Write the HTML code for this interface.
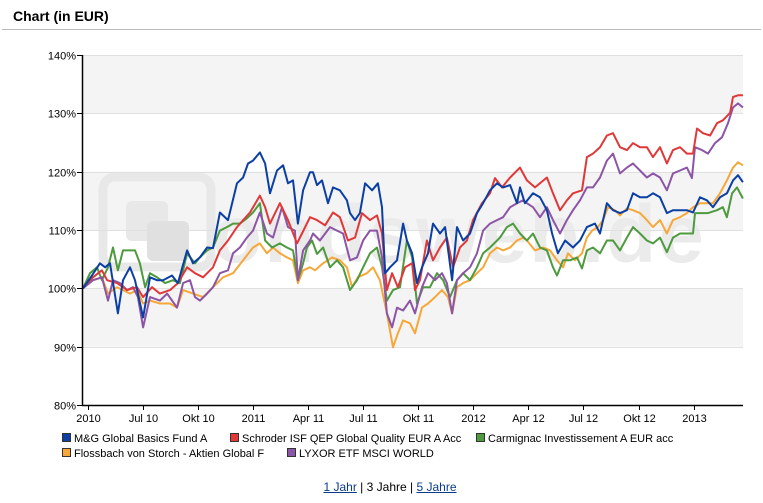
<!DOCTYPE html>
<html><head><meta charset="utf-8">
<style>
body{margin:0;background:#fff;font-family:"Liberation Sans",Arial,sans-serif;}
#wrap{position:relative;width:763px;height:503px;overflow:hidden;}
a{color:#0a3a8a;}
</style></head>
<body>
<div id="wrap">
<svg id="svg" width="763" height="503" xmlns="http://www.w3.org/2000/svg">
  <text x="13" y="21" font-size="14" font-weight="bold" fill="#000">Chart (in EUR)</text>
  <line x1="2" y1="29.5" x2="761" y2="29.5" stroke="#bbb" stroke-width="1"/>
  <g id="bands"></g>
  <g opacity="1">
    <rect x="103" y="177" width="108" height="90" rx="12" fill="none" stroke="#e8e8e8" stroke-width="9"/>
    <rect x="126" y="201" width="42" height="40" rx="6" fill="#e8e8e8"/>
    <rect x="147" y="221" width="42" height="40" rx="6" fill="#e0e0e0"/>
    <text x="212" y="262" font-size="82" font-weight="bold" fill="#ebebeb" letter-spacing="2">ondsweb.de</text>
  </g>
  <g id="grid"></g>
  <g id="series"></g>
  <g id="axes"></g>
  <g id="legend"></g>
</svg>
<div style="position:absolute;left:0;top:480px;width:780px;text-align:center;font-size:12px;">
<a href="#">1 Jahr</a> | <span>3 Jahre</span> | <a href="#">5 Jahre</a>
</div>
</div>
<script>
// months since Apr 2010, value in %
const yTicks=[80,90,100,110,120,130,140];
const xTickLabels=["2010","Jul 10","Okt 10","2011","Apr 11","Jul 11","Okt 11","2012","Apr 12","Jul 12","Okt 12","2013"];
const xTickMonths=[0,3,6,9,12,15,18,21,24,27,30,33];
const seriesNames=["M&G Global Basics Fund A","Schroder ISF QEP Global Quality EUR A Acc","Carmignac Investissement A EUR acc","Flossbach von Storch - Aktien Global F","LYXOR ETF MSCI WORLD"];
const seriesColors=["#0b3fa3","#e03838","#4e9a3e","#f6a738","#8c55a6"];
const blue=[[-0.27,100],[0.22,102.2],[0.65,104.3],[0.93,103.6],[1.2,104.3],[1.63,95.7],[1.91,101.4],[2.29,103.6],[2.56,101.4],[3.0,95.0],[3.38,101.9],[3.76,101.4],[4.09,101.4],[4.58,102.2],[4.9,100.9],[5.4,106.5],[5.72,104.3],[6.1,105.3],[6.49,107.0],[6.81,106.9],[7.19,113.0],[7.63,111.7],[8.12,118.0],[8.45,119.0],[8.72,121.4],[8.99,121.9],[9.37,123.3],[9.65,121.4],[9.92,116.3],[10.3,120.2],[10.63,121.1],[10.9,118.0],[11.17,118.5],[11.44,111.1],[11.72,116.8],[12.1,119.9],[12.26,119.9],[12.48,117.7],[12.75,118.5],[13.08,114.6],[13.35,117.3],[13.73,116.8],[14.11,115.1],[14.28,112.9],[14.55,111.7],[14.82,112.9],[15.1,118.0],[15.48,116.8],[15.8,118.0],[16.02,113.9],[16.19,102.6],[16.46,103.6],[16.84,104.8],[17.17,111.1],[17.38,108.2],[17.66,106.0],[17.93,100.9],[18.2,103.6],[18.53,106.0],[18.8,111.1],[19.18,109.4],[19.46,110.5],[19.84,101.4],[20.11,110.5],[20.44,108.2],[20.82,109.4],[21.2,112.9],[21.53,114.6],[21.91,116.8],[22.29,118.0],[22.62,117.3],[23.0,117.7],[23.38,114.6],[23.54,117.3],[23.81,114.6],[24.25,116.3],[24.63,115.6],[25.01,113.4],[25.29,109.4],[25.61,106.0],[26.0,108.2],[26.43,107.0],[26.81,108.2],[27.19,110.5],[27.63,111.1],[27.9,109.4],[28.28,114.6],[28.61,113.4],[28.99,112.9],[29.37,113.4],[29.7,116.3],[30.08,115.6],[30.46,115.6],[30.79,116.3],[31.17,115.6],[31.55,112.9],[31.88,113.4],[32.26,113.4],[32.64,113.4],[32.97,113.0],[33.35,115.6],[33.73,115.1],[34.06,113.9],[34.44,115.6],[34.82,116.3],[35.15,118.5],[35.42,119.4],[35.69,118.2]];
const red=[[-0.27,100.2],[0.27,101.9],[0.76,103.1],[1.04,101.4],[1.58,100.9],[2.13,99.7],[2.67,100.2],[3.0,98.5],[3.49,100.2],[3.92,99.1],[4.47,99.7],[4.9,100.9],[5.4,103.6],[5.83,102.6],[6.27,101.9],[6.81,103.6],[7.19,106.5],[7.63,108.2],[8.12,110.5],[8.45,111.7],[8.83,113.0],[9.37,115.9],[9.65,113.9],[9.92,111.1],[10.46,114.6],[10.9,111.7],[11.39,107.7],[11.66,109.4],[12.1,112.2],[12.48,111.7],[12.92,110.8],[13.35,113.0],[13.73,112.2],[14.17,108.2],[14.55,108.7],[14.93,112.9],[15.37,111.7],[15.75,112.5],[16.02,109.4],[16.29,99.7],[16.57,102.6],[16.89,100.2],[17.28,103.6],[17.66,104.3],[17.82,99.7],[18.09,101.4],[18.47,108.2],[18.8,104.8],[19.18,107.0],[19.56,108.7],[19.89,103.6],[20.27,107.0],[20.65,108.2],[20.98,111.7],[21.47,114.6],[21.91,116.3],[22.18,118.9],[22.56,117.3],[23.0,119.0],[23.54,120.7],[23.92,118.5],[24.36,117.3],[25.01,119.0],[25.34,116.3],[25.72,113.4],[26.1,115.1],[26.43,116.3],[26.92,116.8],[27.19,122.5],[27.52,123.1],[27.9,124.2],[28.28,126.2],[28.61,126.6],[28.99,124.2],[29.37,123.7],[29.7,124.9],[30.08,124.2],[30.46,124.2],[30.79,122.5],[31.17,124.2],[31.55,121.4],[31.88,123.7],[32.26,124.2],[32.64,123.1],[32.97,123.1],[33.19,127.4],[33.51,126.6],[33.9,126.2],[34.28,128.3],[34.6,128.8],[34.99,130.1],[35.15,132.8],[35.42,133.1],[35.69,133.1]];
const green=[[-0.27,100],[0.11,102.6],[0.49,103.6],[0.76,101.4],[1.09,103.6],[1.36,107.0],[1.63,103.1],[1.91,106.5],[2.18,106.5],[2.56,106.5],[2.83,104.3],[3.11,100.2],[3.38,102.6],[3.76,101.9],[4.2,100.9],[4.63,101.4],[5.01,100.9],[5.4,106.0],[5.83,104.3],[6.1,105.3],[6.49,106.5],[6.81,107.0],[7.19,109.9],[7.57,110.5],[7.9,111.1],[8.28,111.1],[8.66,112.0],[8.99,113.0],[9.37,114.6],[9.65,108.2],[10.03,107.0],[10.46,107.7],[10.84,107.0],[11.17,106.5],[11.44,101.4],[11.72,104.3],[11.93,107.0],[12.21,108.2],[12.48,105.9],[12.81,107.0],[13.19,103.6],[13.57,104.8],[13.9,103.6],[14.28,99.7],[14.66,101.4],[14.99,103.6],[15.37,106.0],[15.75,107.0],[16.02,103.6],[16.29,97.9],[16.62,99.7],[17.0,100.2],[17.38,108.2],[17.66,105.3],[17.93,97.4],[18.26,100.2],[18.64,100.2],[19.02,102.6],[19.35,101.4],[19.73,98.5],[20.11,101.4],[20.44,102.6],[20.82,101.4],[21.2,103.6],[21.53,106.0],[21.91,107.0],[22.45,108.7],[22.83,110.5],[23.16,111.1],[23.54,109.4],[23.92,108.2],[24.25,109.4],[24.63,107.0],[25.01,106.5],[25.34,103.6],[25.56,102.2],[25.89,104.8],[26.27,104.8],[26.65,105.3],[26.92,103.4],[27.19,106.5],[27.52,107.0],[27.9,106.0],[28.28,108.2],[28.61,108.2],[28.99,106.5],[29.37,108.7],[29.7,110.5],[30.08,109.4],[30.46,108.2],[30.79,107.7],[31.17,108.7],[31.55,106.2],[31.88,108.7],[32.26,109.4],[32.64,109.4],[32.97,109.4],[33.08,112.9],[33.46,112.9],[33.79,112.9],[34.28,113.4],[34.6,113.9],[34.82,112.2],[35.1,116.3],[35.37,117.3],[35.69,115.4]];
const orange=[[-0.27,100.2],[0.27,101.4],[0.76,101.9],[1.09,99.1],[1.58,100.2],[1.91,99.7],[2.29,99.1],[2.67,99.7],[3.0,97.4],[3.38,97.9],[3.92,97.4],[4.47,97.4],[4.85,96.7],[5.18,99.7],[5.72,99.1],[6.27,98.5],[6.81,100.2],[7.36,101.9],[7.9,102.6],[8.45,104.8],[8.99,107.0],[9.37,107.7],[9.75,106.0],[10.08,107.0],[10.46,106.0],[10.84,105.3],[11.17,104.8],[11.44,100.9],[11.72,103.1],[12.1,103.6],[12.37,103.1],[12.81,104.3],[13.3,105.3],[13.73,104.8],[14.11,103.6],[14.39,100.2],[14.71,101.9],[15.2,102.6],[15.53,103.6],[15.91,101.4],[16.29,95.7],[16.62,89.9],[16.89,92.3],[17.17,94.5],[17.55,94.0],[17.82,92.3],[18.2,96.7],[18.53,97.4],[18.91,98.5],[19.29,99.7],[19.62,98.5],[19.84,95.7],[20.11,100.2],[20.44,100.9],[20.82,101.4],[21.2,102.6],[21.53,103.6],[21.91,106.0],[22.29,107.0],[22.62,106.5],[23.0,107.0],[23.38,108.2],[23.71,108.7],[23.92,108.2],[24.36,106.5],[24.8,107.0],[25.18,106.5],[25.56,104.8],[25.89,103.6],[26.16,106.0],[26.54,104.8],[26.92,106.0],[27.19,108.7],[27.47,109.9],[27.79,110.5],[28.07,111.7],[28.34,113.9],[28.72,113.4],[28.99,112.5],[29.37,113.7],[29.7,113.4],[30.08,112.9],[30.46,111.7],[30.79,110.5],[31.17,111.7],[31.55,109.4],[31.88,111.7],[32.26,112.2],[32.64,112.9],[32.97,113.9],[33.35,114.6],[33.73,114.6],[34.06,114.6],[34.44,116.3],[34.82,118.5],[35.15,120.7],[35.42,121.6],[35.69,121.1]];
const purple=[[-0.27,100],[0.27,101.4],[0.76,101.9],[1.09,97.9],[1.36,101.4],[1.74,100.9],[2.13,99.7],[2.45,100.2],[2.72,98.5],[3.0,93.3],[3.38,98.5],[3.92,97.9],[4.31,99.1],[4.85,96.7],[5.18,100.9],[5.56,101.4],[5.83,98.5],[6.1,97.9],[6.49,99.1],[6.81,100.2],[7.19,102.6],[7.63,103.1],[7.9,106.0],[8.28,107.0],[8.66,108.7],[8.99,109.9],[9.37,113.0],[9.75,109.4],[10.08,108.7],[10.57,113.9],[10.9,110.5],[11.28,109.9],[11.44,101.4],[11.72,106.5],[12.1,108.2],[12.26,109.4],[12.64,108.2],[13.19,110.5],[13.57,109.9],[13.9,109.4],[14.28,104.8],[14.66,105.3],[14.99,108.2],[15.37,109.9],[15.75,109.9],[16.02,105.3],[16.29,95.7],[16.57,93.3],[16.84,96.7],[17.17,96.2],[17.55,97.9],[17.82,95.7],[18.2,100.2],[18.53,102.6],[18.91,101.4],[19.29,102.6],[19.56,100.9],[19.84,95.7],[20.11,101.4],[20.44,102.6],[20.82,103.6],[21.2,106.0],[21.53,109.9],[21.91,111.1],[22.29,111.7],[22.62,112.2],[23.0,113.9],[23.38,114.6],[23.71,115.1],[23.92,114.6],[24.25,113.9],[24.63,112.2],[25.01,113.9],[25.34,111.7],[25.72,109.4],[26.1,111.7],[26.43,113.4],[26.81,115.1],[27.19,117.3],[27.52,117.3],[27.9,119.0],[28.28,121.9],[28.61,123.1],[28.99,119.7],[29.37,120.7],[29.7,121.4],[30.08,120.2],[30.46,119.0],[30.79,119.7],[31.17,119.0],[31.55,116.8],[31.88,119.7],[32.26,120.2],[32.64,120.7],[32.91,118.9],[33.08,124.2],[33.46,123.7],[33.79,123.1],[34.17,124.9],[34.55,125.9],[34.88,128.3],[35.15,131.0],[35.42,131.7],[35.69,131.0]];

const NS="http://www.w3.org/2000/svg";
const L=82,R=743,T=55,B=405;
function xS(m){return 88+m*18.35;}
function yS(v){return B-(v-80)*(B-T)/60;}
function mk(tag,attrs,parent){const e=document.createElementNS(NS,tag);for(const k in attrs)e.setAttribute(k,attrs[k]);parent.appendChild(e);return e;}
const bands=document.getElementById('bands'),grid=document.getElementById('grid'),axes=document.getElementById('axes'),ser=document.getElementById('series'),leg=document.getElementById('legend');
mk('rect',{x:L,y:T,width:R-L,height:B-T,fill:'#fff'},bands);
for(let i=0;i<yTicks.length-1;i++){
  if(i%2===1){const r=mk('rect',{x:L,y:yS(yTicks[i+1]),width:R-L,height:yS(yTicks[i])-yS(yTicks[i+1]),fill:'#f4f4f4'},bands);
  
  }
}
yTicks.forEach(v=>{
  const y=Math.round(yS(v))+0.5;
  if(v>80){const g=mk('line',{x1:L,x2:R,y1:y,y2:y,stroke:'#e0e0e0','stroke-width':1},grid);
  
  }
  const t=mk('line',{x1:L-5,x2:L,y1:y,y2:y,stroke:'#000'},axes);
  
  
  const lb=mk('text',{x:L-6,y:y+4,'text-anchor':'end','font-size':11,fill:'#000'},axes);
  lb.textContent=v+'%';
  
  
});
const ya=mk('line',{x1:L+0.5,x2:L+0.5,y1:T,y2:B+1,stroke:'#000','stroke-width':1.5},axes);


const xa=mk('line',{x1:L,x2:R,y1:B+0.5,y2:B+0.5,stroke:'#000','stroke-width':1.5},axes);


xTickMonths.forEach((m,i)=>{
  const x=Math.round(xS(m))+0.5;
  const t=mk('line',{x1:x,x2:x,y1:B,y2:B+5,stroke:'#000'},axes);
  
  
  const lb=mk('text',{x:x,y:B+17,'text-anchor':'middle','font-size':11,fill:'#000'},axes);
  lb.textContent=xTickLabels[i];
  
  
});
const allSeries=[blue,red,green,orange,purple];
const drawOrder=[3,2,4,1,0];
const sNames=['series-mg-global-basics','series-schroder-qep','series-carmignac','series-flossbach','series-lyxor-msci-world'];
drawOrder.forEach(i=>{
  const d=allSeries[i].map((p,j)=>(j?'L':'M')+xS(p[0]).toFixed(1)+' '+yS(p[1]).toFixed(1)).join(' ');
  const p=mk('path',{d:d,fill:'none',stroke:seriesColors[i],'stroke-width':2,'stroke-linejoin':'round'},ser);
  
  
});
const legPos=[[62,438],[230,438],[476,438],[62,453],[287,453]];
seriesNames.forEach((n,i)=>{
  const g=mk('g',{},leg);
  
  
  mk('rect',{x:legPos[i][0]+0.5,y:legPos[i][1]-4.5,width:8,height:8,fill:seriesColors[i],stroke:'#333','stroke-width':1},g);
  const t=mk('text',{x:legPos[i][0]+12,y:legPos[i][1]+4,'font-size':11,fill:'#000'},g);
  t.textContent=n;
});
</script>
</body></html>
